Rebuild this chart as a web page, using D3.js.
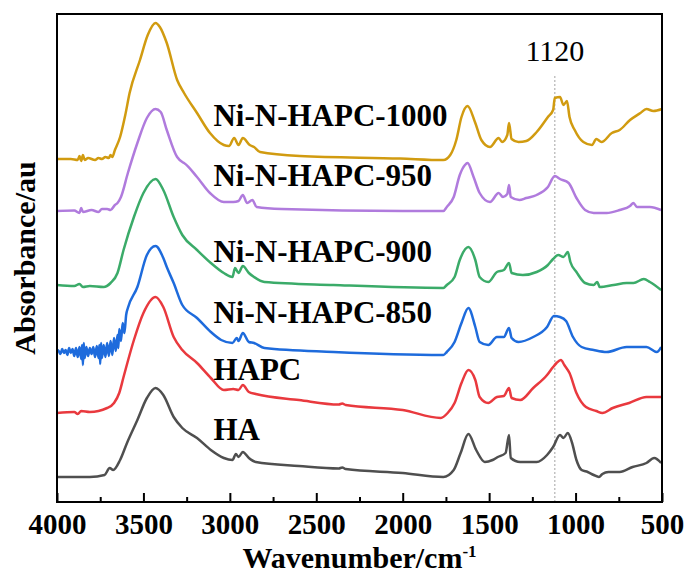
<!DOCTYPE html>
<meta charset="utf-8">
<style>
  body { margin: 0; background: #fff; }
  text { font-family: "Times New Roman", "Liberation Serif", serif; }
</style>
<svg width="692" height="577"></svg>
<script src="https://cdn.jsdelivr.net/npm/d3@7/dist/d3.min.js"></script>
<script>

// spectra: [wavenumber cm-1, absorbance (offset, a.u.)]
var specHA = [[4000,0.26],[3810,0.26],[3725,0.28],[3695,0.35],[3675,0.33],[3635,0.43],[3595,0.60],[3535,0.83],
  [3480,1.05],[3430,1.15],[3385,1.08],[3325,0.86],[3275,0.75],[3190,0.65],[3110,0.53],[3035,0.45],[2985,0.43],
  [2965,0.49],[2950,0.46],[2925,0.51],[2890,0.45],[2850,0.41],[2600,0.37],[2370,0.345],[2350,0.355],[2330,0.34],
  [2000,0.30],[1765,0.26],[1705,0.33],[1665,0.50],[1620,0.69],[1575,0.53],[1525,0.41],[1480,0.43],[1450,0.46],
  [1405,0.50],[1385,0.68],[1375,0.45],[1320,0.41],[1225,0.41],[1165,0.48],[1130,0.56],[1090,0.68],[1070,0.65],
  [1045,0.70],[1020,0.60],[995,0.43],[965,0.33],[930,0.31],[895,0.28],[865,0.26],[845,0.29],[810,0.31],
  [745,0.31],[670,0.36],[590,0.40],[545,0.45],[505,0.40]];

var specHAPC = [[4000,0.90],[3900,0.91],[3880,0.89],[3860,0.92],[3810,0.91],[3710,0.95],[3670,1.00],[3640,1.10],
  [3615,1.26],[3555,1.63],[3500,1.90],[3430,2.06],[3385,1.96],[3325,1.66],[3275,1.53],[3190,1.40],[3110,1.25],
  [3035,1.13],[2980,1.14],[2950,1.13],[2925,1.18],[2890,1.11],[2850,1.09],[2600,1.03],[2370,0.985],[2350,0.995],
  [2330,0.98],[2000,0.93],[1780,0.85],[1740,0.90],[1700,1.00],[1660,1.20],[1620,1.33],[1580,1.23],[1555,1.06],
  [1505,1.00],[1455,1.06],[1415,1.07],[1385,1.15],[1370,1.05],[1320,1.03],[1245,1.15],[1165,1.28],[1130,1.36],
  [1110,1.40],[1085,1.43],[1065,1.38],[1035,1.30],[995,1.10],[940,0.96],[880,0.92],[845,0.90],[785,0.95],
  [690,1.00],[590,1.06],[505,1.06]];

var spec850 = [[4000,1.53],[3990,1.52],[3980,1.49],[3970,1.54],[3960,1.50],[3950,1.53],[3940,1.48],[3930,1.55],
  [3920,1.50],[3910,1.54],[3900,1.47],[3890,1.55],[3880,1.46],[3870,1.56],[3860,1.44],[3855,1.58],[3850,1.38],
  [3845,1.60],[3840,1.45],[3830,1.56],[3820,1.47],[3810,1.55],[3800,1.49],[3790,1.56],[3780,1.46],[3770,1.57],
  [3760,1.45],[3755,1.58],[3750,1.39],[3745,1.60],[3740,1.45],[3730,1.58],[3720,1.46],[3710,1.60],[3700,1.47],
  [3690,1.62],[3680,1.48],[3670,1.65],[3660,1.52],[3650,1.68],[3645,1.55],[3640,1.74],[3630,1.62],[3620,1.80],
  [3610,1.70],[3600,1.88],[3590,1.95],[3535,2.16],[3480,2.48],[3430,2.57],[3385,2.45],[3365,2.36],[3325,2.20],
  [3275,1.98],[3190,1.85],[3110,1.71],[3050,1.63],[2985,1.60],[2960,1.65],[2950,1.62],[2925,1.70],[2890,1.61],
  [2860,1.60],[2800,1.55],[2400,1.51],[1765,1.48],[1745,1.51],[1700,1.61],[1660,1.80],[1620,1.95],[1580,1.76],
  [1555,1.61],[1505,1.58],[1455,1.66],[1415,1.66],[1385,1.75],[1370,1.65],[1330,1.61],[1245,1.66],[1165,1.76],
  [1125,1.87],[1090,1.86],[1055,1.82],[1015,1.66],[965,1.56],[895,1.53],[820,1.51],[705,1.56],[590,1.56],
  [530,1.51],[505,1.56]];

var spec900 = [[4000,2.18],[3900,2.17],[3870,2.19],[3850,2.16],[3810,2.17],[3730,2.16],[3690,2.20],[3650,2.30],
  [3615,2.53],[3555,2.86],[3500,3.10],[3430,3.24],[3385,3.13],[3325,2.86],[3275,2.68],[3190,2.53],[3110,2.40],
  [3035,2.30],[2985,2.26],[2970,2.35],[2950,2.30],[2925,2.37],[2890,2.30],[2860,2.26],[2800,2.21],[2400,2.18],
  [1765,2.15],[1745,2.18],[1700,2.26],[1670,2.43],[1620,2.56],[1580,2.43],[1555,2.26],[1505,2.21],[1455,2.31],
  [1415,2.33],[1385,2.40],[1370,2.30],[1305,2.28],[1225,2.31],[1160,2.38],[1130,2.44],[1100,2.48],[1070,2.46],
  [1045,2.51],[1030,2.41],[995,2.31],[945,2.20],[895,2.18],[875,2.21],[860,2.16],[780,2.18],[705,2.20],
  [665,2.20],[605,2.24],[570,2.21],[505,2.13]];

var spec950 = [[4000,2.92],[3900,2.925],[3870,2.90],[3860,2.95],[3850,2.91],[3800,2.93],[3760,2.91],[3740,2.94],
  [3710,2.94],[3690,2.93],[3665,2.98],[3650,3.00],[3630,3.06],[3590,3.30],[3535,3.60],[3480,3.85],[3430,3.94],
  [3400,3.91],[3365,3.73],[3305,3.46],[3275,3.41],[3265,3.40],[3190,3.26],[3115,3.10],[3035,3.01],[2980,3.01],
  [2950,3.02],[2925,3.08],[2900,3.00],[2870,3.03],[2845,2.96],[2700,2.94],[2000,2.92],[1765,2.92],[1745,2.96],
  [1705,3.06],[1670,3.28],[1640,3.38],[1625,3.40],[1590,3.26],[1555,3.10],[1495,3.01],[1445,3.10],[1420,3.06],
  [1395,3.09],[1385,3.18],[1375,3.06],[1325,3.03],[1285,3.05],[1225,3.08],[1160,3.16],[1120,3.27],[1090,3.24],
  [1040,3.20],[995,3.05],[945,2.93],[895,2.90],[820,2.90],[745,2.93],[685,2.97],[665,3.00],[645,2.96],
  [570,2.96],[505,2.93]];

var spec1000 = [[4000,3.44],[3920,3.44],[3880,3.43],[3870,3.47],[3860,3.42],[3850,3.48],[3840,3.43],[3820,3.45],
  [3780,3.43],[3760,3.45],[3740,3.44],[3720,3.46],[3700,3.45],[3690,3.48],[3680,3.46],[3665,3.53],[3635,3.66],
  [3605,3.88],[3580,4.10],[3520,4.43],[3475,4.68],[3430,4.80],[3405,4.76],[3365,4.60],[3305,4.23],[3265,4.10],
  [3190,3.90],[3115,3.70],[3035,3.58],[3005,3.57],[2975,3.65],[2950,3.58],[2925,3.65],[2885,3.58],[2860,3.56],
  [2825,3.51],[2595,3.47],[2015,3.445],[1765,3.43],[1725,3.48],[1690,3.63],[1660,3.86],[1625,3.97],[1580,3.80],
  [1545,3.63],[1495,3.56],[1445,3.65],[1425,3.61],[1395,3.68],[1385,3.80],[1370,3.64],[1330,3.61],[1285,3.62],
  [1225,3.71],[1160,3.86],[1130,3.93],[1120,4.05],[1090,4.06],[1070,3.98],[1050,4.02],[1035,3.86],[1005,3.73],
  [955,3.61],[905,3.58],[880,3.64],[850,3.61],[790,3.70],[745,3.73],[685,3.83],[625,3.90],[590,3.94],
  [550,3.92],[500,3.94]];

var seriesNames = ["HA", "HAPC", "Ni-N-HAPC-850", "Ni-N-HAPC-900", "Ni-N-HAPC-950", "Ni-N-HAPC-1000"];
var seriesData = [specHA, specHAPC, spec850, spec900, spec950, spec1000];
// where each name sits (wavenumber, absorbance of the text baseline)
var labelAt = [[3095, 0.63], [3095, 1.23], [3095, 1.80], [3095, 2.41], [3095, 3.17], [3095, 3.77]];
var xTicks = [4000, 3500, 3000, 2500, 2000, 1500, 1000, 500];
var markWave = 1120;

var colors = ["#4f4f4f", "#e9393e", "#1e6bdc", "#3bab69", "#b07bdd", "#d19b10"];

var svg = d3.select("svg"),
    margin = {top: 14, right: 30, bottom: 75, left: 57},
    width = +svg.attr("width") - margin.left - margin.right,
    height = +svg.attr("height") - margin.top - margin.bottom;

var x = d3.scaleLinear().domain([4000, 500]).range([0, width]),
    y = d3.scaleLinear().domain([0.01, 4.89]).range([height, 0]);

var g = svg.append("g")
    .attr("transform", "translate(" + margin.left + "," + margin.top + ")");

// dashed marker line
g.append("line")
    .attr("x1", x(markWave)).attr("x2", x(markWave))
    .attr("y1", 62).attr("y2", height)
    .attr("stroke", "#999").attr("stroke-width", 0.9)
    .attr("stroke-dasharray", "2,2");

g.append("text")
    .attr("x", x(markWave)).attr("y", 47)
    .attr("text-anchor", "middle")
    .style("font-size", "30px")
    .text(markWave);

var line = d3.line()
    .x(function(d) { return x(d[0]); })
    .y(function(d) { return y(d[1]); })
    .curve(d3.curveMonotoneX);

g.selectAll(".spec")
    .data(seriesData)
  .enter().append("path")
    .attr("class", "spec")
    .attr("fill", "none")
    .attr("stroke", function(d, i) { return colors[i]; })
    .attr("stroke-width", 2.5)
    .attr("stroke-linejoin", "round")
    .attr("d", line);

g.selectAll(".lab")
    .data(seriesNames)
  .enter().append("text")
    .attr("class", "lab")
    .attr("x", function(d, i) { return x(labelAt[i][0]); })
    .attr("y", function(d, i) { return y(labelAt[i][1]); })
    .style("font-size", "31px")
    .style("font-weight", "bold")
    .text(function(d) { return d; });

// minor ticks
g.append("g")
    .attr("transform", "translate(0," + height + ")")
    .call(d3.axisBottom(x).tickValues(d3.range(3750, 500, -500)).tickSize(-5).tickFormat(""))
    .call(function(a) { a.select(".domain").remove(); a.selectAll("line").attr("stroke-width", 2); });

// major ticks + labels
g.append("g")
    .attr("transform", "translate(0," + height + ")")
    .call(d3.axisBottom(x).tickValues(xTicks).tickSize(-9).tickPadding(11).tickFormat(d3.format("d")))
    .call(function(a) {
      a.select(".domain").remove();
      a.selectAll("line").attr("stroke-width", 2);
      a.selectAll("text")
        .style("font-family", "'Times New Roman', 'Liberation Serif', serif")
        .style("font-size", "29px").style("font-weight", "bold").attr("fill", "#000");
    });

// frame
g.append("rect")
    .attr("width", width).attr("height", height)
    .attr("fill", "none").attr("stroke", "#000").attr("stroke-width", 2);

var xt = svg.append("text")
    .attr("x", margin.left + width / 2).attr("y", 568)
    .attr("text-anchor", "middle")
    .style("font-size", "30px").style("font-weight", "bold")
    .text("Wavenumber/cm");
xt.append("tspan").attr("dy", -11).style("font-size", "17px").text("-1");

svg.append("text")
    .attr("transform", "translate(35," + (margin.top + height / 2) + ") rotate(-90)")
    .attr("text-anchor", "middle")
    .style("font-size", "30px").style("font-weight", "bold")
    .text("Absorbance/au");

</script>
